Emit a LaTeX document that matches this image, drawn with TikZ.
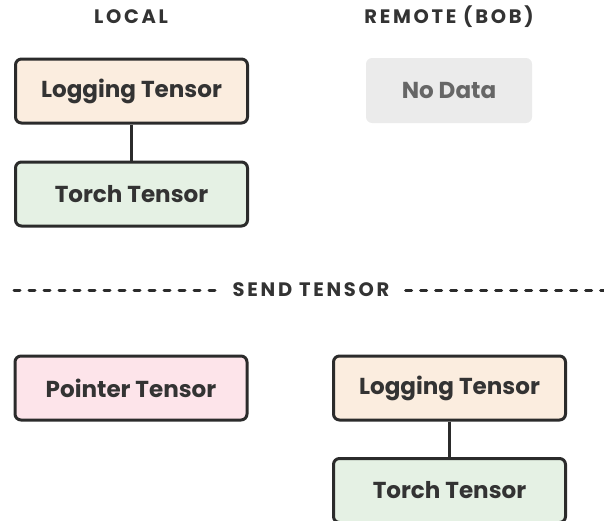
\documentclass[tikz,border=0pt]{standalone}
\usepackage{fontspec}
\setmainfont{Poppins}
\usetikzlibrary{positioning}
\definecolor{ink}{HTML}{2B2B2B}
\definecolor{textc}{HTML}{333333}
\definecolor{peach}{HTML}{FBEDDF}
\definecolor{mint}{HTML}{E5F1E4}
\definecolor{pinkc}{HTML}{FDE4EA}
\definecolor{greyc}{HTML}{EBEBEB}
\definecolor{greyt}{HTML}{666666}
\tikzset{
  box/.style={draw=ink, line width=2.25pt, rounded corners=4.5pt, minimum width=174pt, minimum height=48pt, inner sep=0pt, font=\bfseries\fontsize{17.3}{19}\selectfont, text=textc},
  logbox/.style={box, fill=peach},
  torchbox/.style={box, fill=mint},
  ptrbox/.style={box, fill=pinkc},
  nodatabox/.style={rounded corners=4.5pt, fill=greyc, minimum width=124.5pt, minimum height=48.75pt, inner sep=0pt, font=\bfseries\fontsize{17.3}{19}\selectfont, text=greyt},
  title/.style={font=\bfseries\fontsize{14.6}{16}\selectfont\addfontfeatures{LetterSpace=14}, text=textc, inner sep=0pt},
  link/.style={draw=ink, line width=2.25pt},
  sep/.style={draw=ink, line width=2.25pt, line cap=round, dash pattern=on 4.5pt off 6.75pt},
}
\begin{document}
\begin{tikzpicture}[x=0.75pt, y=-0.75pt]
\useasboundingbox (0,0) rectangle (604,521);
\node[title] (tlocal) at (131,17) {LOCAL};
\node[title] (tremote) at (449,17) {REMOTE (BOB)};
\node[logbox] (log1) at (131.5,91) {Logging Tensor};
\node[torchbox] (torch1) at (131.5,194) {Torch Tensor};
\node[nodatabox] (nodata) at (449,90.5) {No Data};
\draw[link] (log1) -- (torch1);
\node[title, inner xsep=0pt] (send) at (311,290) {SEND TENSOR};
\coordinate (dl) at (14,290);
\coordinate (dr) at (610,290);
\draw[sep] (dl) -- ([xshift=-12pt]send.west);
\draw[sep] ([xshift=12pt]send.east) -- (dr);
\node[ptrbox] (ptr) at (131,388) {Pointer Tensor};
\node[logbox] (log2) at (449.5,388) {Logging Tensor};
\node[torchbox] (torch2) at (449.5,490.5) {Torch Tensor};
\draw[link] (log2) -- (torch2);
\end{tikzpicture}
\end{document}
